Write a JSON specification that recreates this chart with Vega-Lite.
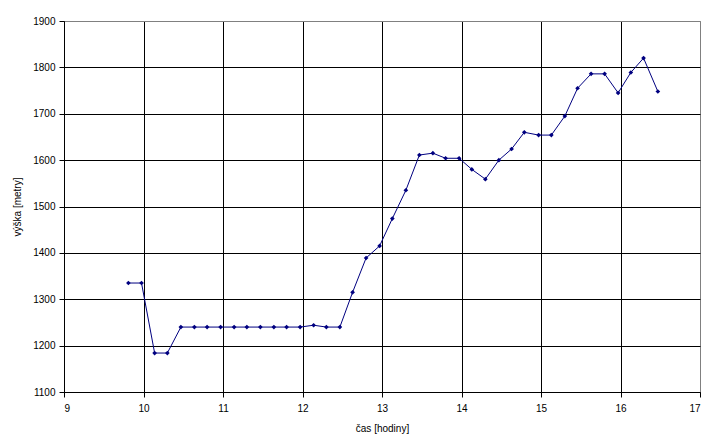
{
  "$schema": "https://vega.github.io/schema/vega-lite/v6.json",
  "width": 636,
  "height": 371,
  "autosize": {"type": "none"},
  "padding": {"left": 64, "top": 21, "right": 17, "bottom": 54},
  "background": "white",
  "config": {
    "font": "Liberation Sans",
    "view": {"stroke": "#808080", "strokeWidth": 1},
    "axis": {
      "domainColor": "black",
      "tickColor": "black",
      "tickSize": 5,
      "labelColor": "black",
      "titleColor": "black",
      "labelFontSize": 10,
      "titleFontSize": 10,
      "titleFontWeight": "normal",
      "gridColor": "black",
      "gridOpacity": 1,
      "gridWidth": 1
    }
  },
  "data": {
    "values": [
      {"t": 9.81, "h": 1335},
      {"t": 9.975, "h": 1335},
      {"t": 10.14, "h": 1184},
      {"t": 10.30, "h": 1184},
      {"t": 10.47, "h": 1240},
      {"t": 10.64, "h": 1240},
      {"t": 10.80, "h": 1240},
      {"t": 10.97, "h": 1240},
      {"t": 11.14, "h": 1240},
      {"t": 11.30, "h": 1240},
      {"t": 11.47, "h": 1240},
      {"t": 11.64, "h": 1240},
      {"t": 11.80, "h": 1240},
      {"t": 11.97, "h": 1240},
      {"t": 12.14, "h": 1244},
      {"t": 12.30, "h": 1240},
      {"t": 12.47, "h": 1240},
      {"t": 12.63, "h": 1315},
      {"t": 12.80, "h": 1389},
      {"t": 12.97, "h": 1415},
      {"t": 13.13, "h": 1474},
      {"t": 13.30, "h": 1535},
      {"t": 13.47, "h": 1611},
      {"t": 13.64, "h": 1615},
      {"t": 13.80, "h": 1604},
      {"t": 13.97, "h": 1604},
      {"t": 14.13, "h": 1580},
      {"t": 14.30, "h": 1559},
      {"t": 14.47, "h": 1600},
      {"t": 14.63, "h": 1624},
      {"t": 14.79, "h": 1660},
      {"t": 14.97, "h": 1654},
      {"t": 15.13, "h": 1654},
      {"t": 15.30, "h": 1695},
      {"t": 15.46, "h": 1755},
      {"t": 15.63, "h": 1786},
      {"t": 15.80, "h": 1786},
      {"t": 15.97, "h": 1745},
      {"t": 16.13, "h": 1789},
      {"t": 16.29, "h": 1820},
      {"t": 16.47, "h": 1748}
    ]
  },
  "encoding": {
    "x": {
      "field": "t",
      "type": "quantitative",
      "scale": {"domain": [9, 17], "nice": false, "zero": false},
      "axis": {
        "values": [9, 10, 11, 12, 13, 14, 15, 16, 17],
        "format": "d",
        "title": "čas [hodiny]",
        "grid": true,
        "gridColor": {"condition": {"test": "datum.value == 17", "value": "#808080"}, "value": "black"},
        "labelPadding": 6,
        "titlePadding": 10
      }
    },
    "y": {
      "field": "h",
      "type": "quantitative",
      "scale": {"domain": [1100, 1900], "nice": false, "zero": false},
      "axis": {
        "values": [1100, 1200, 1300, 1400, 1500, 1600, 1700, 1800, 1900],
        "format": "d",
        "title": "výška [metry]",
        "grid": true,
        "gridColor": {"condition": {"test": "datum.value == 1900", "value": "#808080"}, "value": "black"},
        "labelPadding": 4,
        "titlePadding": 10
      }
    }
  },
  "layer": [
    {"mark": {"type": "line", "color": "#000080", "strokeWidth": 1}},
    {"mark": {"type": "point", "shape": "diamond", "filled": true, "color": "#000080", "opacity": 1, "size": 22}}
  ]
}
